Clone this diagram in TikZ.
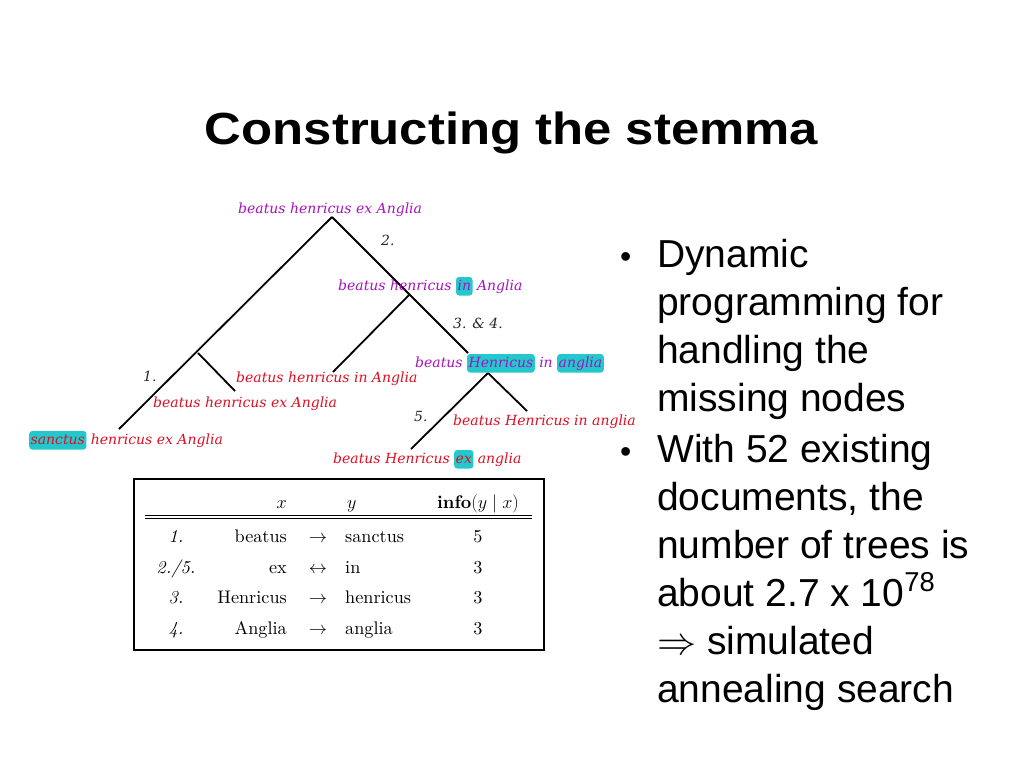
\RequirePackage{fix-cm}
\documentclass[tikz,border=0pt]{standalone}
\usepackage{fontspec}
\usepackage{graphicx}
\newfontfamily\slidefont{Liberation Sans}
\newfontfamily\stemfont{DejaVu Serif}
\newfontfamily\tabfont{lmroman10-regular}[Extension=.otf, ItalicFont=lmroman10-italic, BoldFont=lmroman10-bold]
\definecolor{stemviolet}{RGB}{165,20,185}
\definecolor{stemred}{RGB}{220,15,35}
\definecolor{hlcyan}{RGB}{35,200,205}
\newcommand{\schbk}{\stemfont\itshape\fontsize{14}{17}\selectfont}
% cyan mark behind a changed word
\newcommand{\hl}[1]{\tikz[baseline=(hw.base)]\node[fill=hlcyan,rounded corners=3pt,inner xsep=1.5pt,inner ysep=2pt,text height=11pt,text depth=3.5pt](hw){#1};}
\begin{document}
\begin{tikzpicture}[x=1pt,y=-1pt,
    twig/.style={line width=1.8pt},
    reading/.style={anchor=base west, inner sep=0pt, font=\schbk},
    lost/.style={reading, text=stemviolet},
    kept/.style={reading, text=stemred},
    change/.style={reading, text=black!85},
    bul/.style={anchor=base west, inner sep=0pt, font=\slidefont\fontsize{39}{48}\selectfont},
    cell/.style={inner sep=0pt, font=\tabfont\fontsize{18.2}{22}\selectfont}]
\useasboundingbox (0,0) rectangle (1024,768);

\node[anchor=base, inner sep=0pt, font=\slidefont\bfseries\fontsize{45}{54}\selectfont] (title) at (511.5,144) {\scalebox{1.13}[1]{Constructing the stemma}};

% stemma
\coordinate (r) at (332,217);
\coordinate (f1) at (198,353);
\coordinate (s1) at (119,429);
\coordinate (s2) at (235,391);
\coordinate (f2) at (409,295);
\coordinate (s3) at (333,372);
\coordinate (f3) at (468,353);
\coordinate (f4) at (488,373);
\coordinate (s4) at (527,411);
\coordinate (s5) at (411,449);
\draw[twig] (r) -- (s1);
\draw[twig] (f1) -- (s2);
\draw[twig] (r) -- (f3);
\draw[twig] (f2) -- (s3);
\draw[twig] (f4) -- (s4);
\draw[twig] (f4) -- (s5);

\node[lost] (root) at (238,213) {beatus henricus ex Anglia};
\node[lost] (mid) at (338,290) {beatus henricus \hl{in} Anglia};
\node[lost] (low) at (415,367) {beatus \hl{Henricus} in \hl{anglia}};
\node[kept] (w1) at (29,444) {\hl{sanctus} henricus ex Anglia};
\node[kept] (w2) at (153,407) {beatus henricus ex Anglia};
\node[kept] (w3) at (236,382) {beatus henricus in Anglia};
\node[kept] (w4) at (453,425) {beatus Henricus in anglia};
\node[kept] (w5) at (333,463) {beatus Henricus \hl{ex} anglia};
\node[change] (c1) at (143,381) {1.};
\node[change] (c2) at (381,245) {2.};
\node[change] (c3) at (453,328) {3. \& 4.};
\node[change] (c5) at (414,421) {5.};

% table
\node[draw, line width=1.6pt, minimum width=410pt, minimum height=171pt, inner sep=0pt] (tab) at (339,564.5) {};
\draw[line width=0.9pt] (145,515) -- (532,515);
\draw[line width=0.9pt] (145,518.5) -- (532,518.5);
\node[cell, anchor=base east] (hx) at (287,508) {$x$};
\node[cell, anchor=base west] (hy) at (347,508) {$y$};
\node[cell, anchor=base] (hi) at (478,508) {\textbf{info}$(y\mid x)$};
\foreach \yy/\nr/\src/\rel/\dst/\bits [count=\k] in {542/1./beatus/\rightarrow/sanctus/5, 573/{2./5.}/ex/\leftrightarrow/in/3, 603/3./Henricus/\rightarrow/henricus/3, 634/4./Anglia/\rightarrow/anglia/3}{
  \node[cell, anchor=base] (n\k) at (176,\yy) {\itshape\nr};
  \node[cell, anchor=base east] (x\k) at (287,\yy) {\src};
  \node[cell, anchor=base] (a\k) at (318,\yy) {$\rel$};
  \node[cell, anchor=base west] (y\k) at (345,\yy) {\dst};
  \node[cell, anchor=base] (i\k) at (478,\yy) {\bits};
}

% bullets
\node[bul, font=\slidefont\fontsize{32}{40}\selectfont] (d1) at (620,267) {\textbullet};
\node[bul, font=\slidefont\fontsize{32}{40}\selectfont] (d2) at (620,462) {\textbullet};
\foreach \yy/\ln [count=\k] in {267/Dynamic, 315/programming for, 363/handling the, 411/missing nodes}
  \node[bul] (p\k) at (657,\yy) {\ln};
\foreach \yy/\ln [count=\k] in {462/With 52 existing, 510/{documents, the}, 558/number of trees is, 606/{about 2.7 x 10\textsuperscript{78}}, 654/{$\Rightarrow$ simulated}, 702/annealing search}
  \node[bul] (q\k) at (657,\yy) {\ln};
\end{tikzpicture}
\end{document}
